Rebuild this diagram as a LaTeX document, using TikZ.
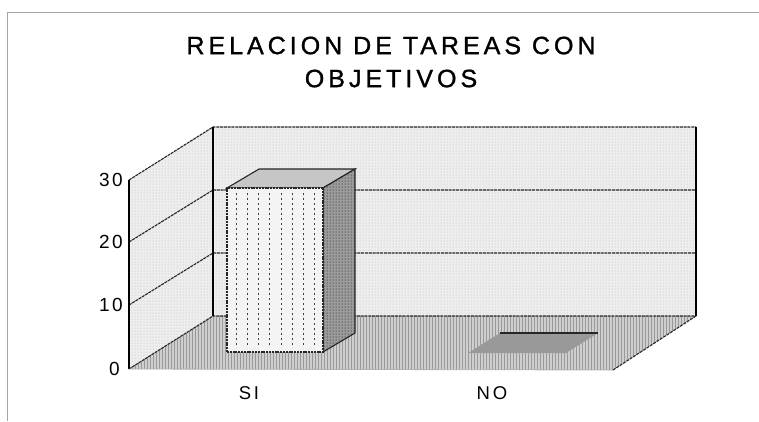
\documentclass[tikz,border=0pt]{standalone}
\usepackage{fontspec}
\setmainfont{Liberation Sans}
\usetikzlibrary{patterns}
\begin{document}
\begin{tikzpicture}[x=1pt,y=-1pt,
  frameline/.style={gray!70,line width=1pt},
  wall/.style={fill=gray!13},
  wallpat/.style={pattern=dots,pattern color=gray!55},
  floorfill/.style={fill=gray!38},
  floorpat/.style={pattern=vertical lines,pattern color=gray!80},
  gridline/.style={black!85,line width=1.1pt,dash pattern=on 3pt off 0.8pt},
  edgeline/.style={black,line width=1.4pt},
  barfront/.style={fill=gray!9,draw=black!85,line width=1.1pt,dash pattern=on 2pt off 0.8pt},
  barside/.style={fill=gray!78,draw=black!85,line width=1.1pt},
  bartop/.style={fill=gray!45,draw=black!85,line width=1.1pt},
  barstripe/.style={black!75,line width=0.9pt,dash pattern=on 2pt off 3pt},
  axislabel/.style={anchor=east,font=\fontsize{19}{20}\selectfont\addfontfeature{LetterSpace=14},inner sep=0pt},
  catlabel/.style={font=\fontsize{18.5}{20}\selectfont\addfontfeature{LetterSpace=15},inner sep=0pt},
  titlestyle/.style={font=\fontsize{25}{33}\selectfont\addfontfeature{LetterSpace=16,FakeBold=1.2},align=center,inner sep=0pt}
]
\useasboundingbox (0,0) rectangle (759,421);
\fill[white] (0,0) rectangle (759,421);
% outer frame
\draw[frameline] (7,421) -- (7,12) -- (759,12);
% named corners
\coordinate (FL0) at (129,369);
\coordinate (FL30) at (129,180);
\coordinate (BL0) at (213,316);
\coordinate (BL30) at (213,127);
\coordinate (BR0) at (696,316);
\coordinate (BR30) at (696,127);
\coordinate (FR0) at (613,370);
% walls
\fill[wall] (FL0) -- (FL30) -- (BL30) -- (BL0) -- cycle;
\fill[wallpat] (FL0) -- (FL30) -- (BL30) -- (BL0) -- cycle;
\fill[wall] (BL0) -- (BL30) -- (BR30) -- (BR0) -- cycle;
\fill[wallpat] (BL0) -- (BL30) -- (BR30) -- (BR0) -- cycle;
% floor
\fill[floorfill] (FL0) -- (BL0) -- (BR0) -- (FR0) -- cycle;
\fill[floorpat] (FL0) -- (BL0) -- (BR0) -- (FR0) -- cycle;
% gridlines
\coordinate (FL10) at (129,305);
\coordinate (FL20) at (129,242);
\coordinate (BL10) at (213,253);
\coordinate (BL20) at (213,190);
\coordinate (BR10) at (696,253);
\coordinate (BR20) at (696,190);
\draw[gridline] (FL10) -- (BL10) -- (BR10);
\draw[gridline] (FL20) -- (BL20) -- (BR20);
\draw[gridline] (FL30) -- (BL30) -- (BR30);
\draw[gridline] (FL0) -- (BL0) -- (BR0);
% edges
\draw[edgeline] (FL0) -- (FL30);
\draw[edgeline] (BL0) -- (BL30);
\draw[edgeline] (BR30) -- (BR0);
\draw[black!85,line width=1.1pt,dash pattern=on 3pt off 1pt] (BR0) -- (FR0);
\draw[gray!60,line width=0.8pt] (FL0) -- (FR0);
% SI bar
\coordinate (SIa) at (227,352);
\coordinate (SIb) at (323,352);
\coordinate (SIc) at (323,188);
\coordinate (SId) at (227,188);
\coordinate (SIe) at (259,169);
\coordinate (SIf) at (355,169);
\coordinate (SIg) at (355,333);
\draw[bartop] (SId) -- (SIe) -- (SIf) -- (SIc) -- cycle;
\draw[barside] (SIc) -- (SIf) -- (SIg) -- (SIb) -- cycle;
\fill[pattern=dots,pattern color=black] (SIc) -- (SIf) -- (SIg) -- (SIb) -- cycle;
\draw[barfront] (SIa) -- (SIb) -- (SIc) -- (SId) -- cycle;
\foreach \x in {236,247,258,269,281,292,303,314}
  \draw[barstripe] (\x,193) -- (\x,348);
% NO bar (value 0)
\coordinate (NOa) at (468,353);
\coordinate (NOb) at (500,333);
\coordinate (NOc) at (598,333);
\coordinate (NOd) at (566,353);
\fill[gray!80] (NOa) -- (NOb) -- (NOc) -- (NOd) -- cycle;
\draw[black!85,line width=1.1pt] (NOb) -- (NOc);
% axis labels
\node[axislabel] (l30) at (123,180) {30};
\node[axislabel] (l20) at (123,242) {20};
\node[axislabel] (l10) at (123,305) {10};
\node[axislabel] (l0) at (120,369) {0};
% category labels
\node[catlabel] (cSI) at (249,393) {SI};
\node[catlabel] (cNO) at (492,393) {NO};
% title
\node[titlestyle] (title) at (391,62) {RELACION DE TAREAS CON\\OBJETIVOS};
\end{tikzpicture}
\end{document}
